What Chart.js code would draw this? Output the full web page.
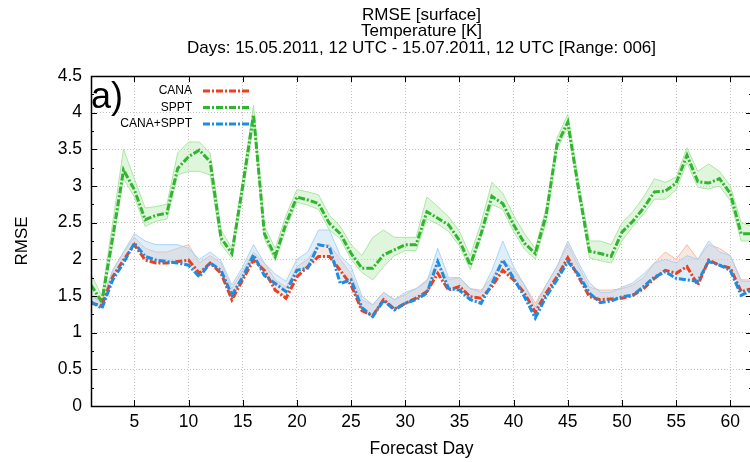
<!DOCTYPE html>
<html>
<head>
<meta charset="utf-8">
<title>RMSE surface temperature</title>
<script src="https://cdn.jsdelivr.net/npm/chart.js@4.4.1/dist/chart.umd.min.js"></script>
<style>
  html, body { margin: 0; padding: 0; overflow: hidden; background: #fff; }
  #wrap { width: 760px; height: 462px; }
</style>
</head>
<body>
<div id="wrap"><canvas id="rmse" width="760" height="462"></canvas></div>
<script>
// forecast days (x) and tick labels
const DAYS = [1,2,3,4,5,6,7,8,9,10,11,12,13,14,15,16,17,18,19,20,21,22,23,24,25,26,27,28,29,30,31,
  32,33,34,35,36,37,38,39,40,41,42,43,44,45,46,47,48,49,50,51,52,53,54,55,56,57,58,59,60,61,62];
const X_TICKS = [5, 10, 15, 20, 25, 30, 35, 40, 45, 50, 55, 60];
const TITLE_LINES = ['RMSE [surface]', 'Temperature [K]', 'Days: 15.05.2011, 12 UTC - 15.07.2011, 12 UTC [Range: 006]'];

// main (thick dash-dot) series
const CANA = [1.40,1.37,1.76,1.99,2.20,1.99,1.95,1.95,1.97,1.99,1.81,1.95,1.81,1.45,1.72,1.99,1.85,1.58,1.47,1.76,
  1.90,2.04,2.04,1.85,1.65,1.30,1.23,1.45,1.32,1.40,1.47,1.56,1.81,1.58,1.63,1.49,1.47,1.63,1.85,1.72,
  1.54,1.28,1.54,1.76,2.02,1.76,1.49,1.45,1.46,1.47,1.51,1.60,1.74,1.85,1.81,1.90,1.65,1.99,1.92,1.88,1.56,1.60];
const SPPT = [1.65,1.42,2.30,3.22,2.95,2.54,2.60,2.63,3.24,3.40,3.49,3.33,2.29,2.08,3.00,3.97,2.35,2.04,2.49,2.85,
  2.81,2.76,2.49,2.35,2.08,1.88,1.88,2.06,2.13,2.20,2.20,2.65,2.56,2.47,2.26,1.92,2.35,2.86,2.76,2.47,
  2.22,2.08,2.60,3.56,3.87,2.95,2.11,2.08,2.04,2.37,2.52,2.70,2.92,2.93,3.04,3.42,3.06,3.04,3.10,2.90,2.35,2.35];
const CANA_SPPT = [1.42,1.33,1.72,1.95,2.22,2.04,1.99,1.97,1.95,1.92,1.76,1.95,1.85,1.51,1.76,2.06,1.78,1.67,1.56,1.85,
  1.88,2.20,2.17,1.67,1.72,1.34,1.22,1.44,1.31,1.40,1.45,1.54,1.97,1.60,1.58,1.45,1.40,1.67,1.99,1.74,
  1.49,1.20,1.49,1.72,1.97,1.79,1.54,1.41,1.43,1.49,1.51,1.63,1.76,1.83,1.74,1.72,1.70,1.97,1.92,1.85,1.51,1.58];

// spread of the ensemble members (faint lines), upper / lower edge
const CANA_HI = [1.50,1.45,1.85,2.10,2.30,2.15,2.10,2.10,2.15,2.20,1.95,2.05,1.95,1.60,1.85,2.10,1.95,1.72,1.62,1.90,
  2.00,2.20,2.20,2.00,1.80,1.45,1.38,1.55,1.45,1.52,1.60,1.72,1.95,1.72,1.75,1.60,1.58,1.75,2.00,1.85,
  1.65,1.40,1.65,1.90,2.20,1.90,1.62,1.58,1.58,1.60,1.65,1.75,1.95,2.10,2.00,2.20,2.00,2.20,2.15,2.05,1.72,1.72];
const CANA_SPPT_HI = [1.50,1.42,1.85,2.10,2.35,2.25,2.20,2.20,2.20,2.15,2.00,2.10,1.98,1.65,1.90,2.20,1.95,1.80,1.70,2.00,
  2.10,2.40,2.40,2.05,1.90,1.50,1.38,1.55,1.45,1.55,1.60,1.70,2.15,1.75,1.75,1.60,1.55,1.85,2.25,1.90,
  1.65,1.35,1.65,1.90,2.25,1.95,1.68,1.55,1.55,1.62,1.68,1.80,1.95,2.00,1.95,2.05,2.00,2.25,2.10,2.05,1.70,1.70];
const SPPT_HI = [1.80,1.50,2.50,3.50,3.10,2.70,2.72,2.75,3.45,3.60,3.60,3.45,2.40,2.15,3.10,4.10,2.45,2.15,2.60,2.95,
  2.92,2.88,2.60,2.45,2.20,2.05,2.30,2.40,2.30,2.30,2.30,2.85,2.72,2.58,2.38,2.05,2.50,3.05,2.90,2.60,
  2.35,2.15,2.70,3.65,3.98,3.05,2.25,2.25,2.20,2.50,2.65,2.85,3.10,3.05,3.12,3.52,3.20,3.30,3.20,3.00,2.50,2.45];
const SPPT_LO = [1.55,1.38,2.20,3.10,2.85,2.45,2.52,2.55,3.15,3.20,3.20,3.15,2.20,2.02,2.90,3.85,2.28,1.98,2.42,2.78,
  2.74,2.68,2.40,2.28,2.00,1.82,1.72,1.90,2.05,2.12,2.12,2.55,2.48,2.38,2.18,1.86,2.30,2.75,2.68,2.38,
  2.14,2.00,2.50,3.50,3.80,2.90,2.02,1.98,1.95,2.25,2.45,2.62,2.82,2.82,2.95,3.32,2.98,2.96,3.00,2.80,2.25,2.25];

const RED = '#ea3f20', GREEN = '#2fb52f', BLUE = '#1a8ee0';
const FONT = '"Liberation Sans", Arial, sans-serif';
const pts = (vals) => DAYS.map((d, i) => ({ x: d, y: vals[i] }));

Chart.defaults.font.family = FONT;
Chart.defaults.color = '#000';

const mainLine = (label, vals, color) => ({
  label, data: pts(vals), borderColor: color, borderWidth: 3, borderDash: [7, 2, 2, 2],
  pointRadius: 0, tension: 0, fill: false
});
const band = (label, vals, line, fillTo, fillColor) => ({
  label, data: pts(vals), borderColor: line, borderWidth: 1, pointRadius: 0, tension: 0,
  fill: fillTo === null ? false : { target: fillTo }, backgroundColor: fillColor
});

// boxed frame, inward ticks, legend, panel tag, y title and title
const frame = {
  id: 'frame',
  afterDraw(chart) {
    const { ctx, chartArea: a, scales: { x, y } } = chart;
    ctx.save();
    ctx.strokeStyle = '#000';
    ctx.lineWidth = 1;
    ctx.beginPath();
    for (let v = 0; v <= 4.5001; v += 0.25) {
      const py = Math.round(y.getPixelForValue(v)) + 0.5;
      const len = Math.abs(v / 0.5 - Math.round(v / 0.5)) < 0.01 ? 6 : 3;
      ctx.moveTo(a.left, py); ctx.lineTo(a.left + len, py);
      ctx.moveTo(a.right, py); ctx.lineTo(a.right - len, py);
    }
    X_TICKS.forEach(v => {
      const px = Math.round(x.getPixelForValue(v)) + 0.5;
      ctx.moveTo(px, a.bottom); ctx.lineTo(px, a.bottom - 6);
      ctx.moveTo(px, a.top); ctx.lineTo(px, a.top + 6);
    });
    ctx.stroke();
    ctx.lineWidth = 1.5;
    ctx.strokeRect(a.left + 0.5, a.top + 0.5, a.right - a.left, a.bottom - a.top);

    // panel tag
    ctx.fillStyle = '#000';
    ctx.font = '36px ' + FONT;
    ctx.textAlign = 'left';
    ctx.textBaseline = 'alphabetic';
    ctx.fillText('a)', a.left, a.top + 32);

    // legend
    const items = [['CANA', RED], ['SPPT', GREEN], ['CANA+SPPT', BLUE]];
    ctx.font = '12px ' + FONT;
    ctx.textAlign = 'right';
    ctx.textBaseline = 'middle';
    items.forEach(([name, col], i) => {
      const ly = 91 + i * 16.5;
      ctx.fillStyle = '#000';
      ctx.fillText(name, 192, ly);
      ctx.strokeStyle = col;
      ctx.lineWidth = 3;
      ctx.setLineDash([7, 2, 2, 2]);
      ctx.beginPath(); ctx.moveTo(203, ly); ctx.lineTo(250, ly); ctx.stroke();
      ctx.setLineDash([]);
    });

    // y axis title
    ctx.font = '17px ' + FONT;
    ctx.textAlign = 'center';
    ctx.save();
    ctx.translate(22, (a.top + a.bottom) / 2);
    ctx.rotate(-Math.PI / 2);
    ctx.fillText('RMSE', 0, 0);
    ctx.restore();

    // title
    ctx.fillStyle = '#000';
    ctx.font = '17px ' + FONT;
    ctx.textAlign = 'center';
    const cx = (a.left + a.right) / 2;
    TITLE_LINES.forEach((t, i) => ctx.fillText(t, cx, 15 + i * 16.5));
    ctx.restore();
  }
};

new Chart(document.getElementById('rmse'), {
  type: 'line',
  data: {
    datasets: [
      mainLine('CANA+SPPT', CANA_SPPT, BLUE),
      mainLine('CANA', CANA, RED),
      mainLine('SPPT', SPPT, GREEN),
      band('CANA+SPPT members', CANA_SPPT_HI, 'rgba(165,210,242,0.9)', 0, 'rgba(182,218,245,0.45)'),
      band('CANA members', CANA_HI, 'rgba(246,180,165,0.9)', 1, 'rgba(248,192,178,0.4)'),
      band('SPPT members', SPPT_HI, 'rgba(165,228,155,0.9)', 6, 'rgba(178,232,168,0.4)'),
      band('SPPT members low', SPPT_LO, 'rgba(165,228,155,0.9)', null, 'transparent')
    ]
  },
  options: {
    responsive: false,
    animation: false,
    layout: { padding: { top: 76, right: 8, left: 0, bottom: 0 } },
    plugins: { legend: { display: false }, tooltip: { enabled: false } },
    scales: {
      x: {
        type: 'linear', min: 1, max: 62,
        afterBuildTicks: s => { s.ticks = X_TICKS.map(v => ({ value: v })); },
        afterFit: s => { s.height = 56; },
        ticks: { font: { size: 17.5 }, padding: 6, maxRotation: 0, color: '#000' },
        grid: { color: '#c4c4c4', lineWidth: 1, drawTicks: false },
        border: { display: false, dash: [1, 2] },
        title: { display: true, text: 'Forecast Day', font: { size: 17.5 }, color: '#000', padding: { top: 0, bottom: 2 } }
      },
      y: {
        min: 0, max: 4.5,
        afterFit: s => { s.width = 91; },
        ticks: { stepSize: 0.5, font: { size: 17.5 }, padding: 9, color: '#000', callback: v => String(v) },
        grid: {
          color: c => (c.tick.value === 0 || c.tick.value === 4.5) ? 'rgba(0,0,0,0)' : '#c4c4c4',
          lineWidth: 1, drawTicks: false
        },
        border: { display: false, dash: [1, 2] }
      }
    }
  },
  plugins: [frame]
});
</script>
</body>
</html>
